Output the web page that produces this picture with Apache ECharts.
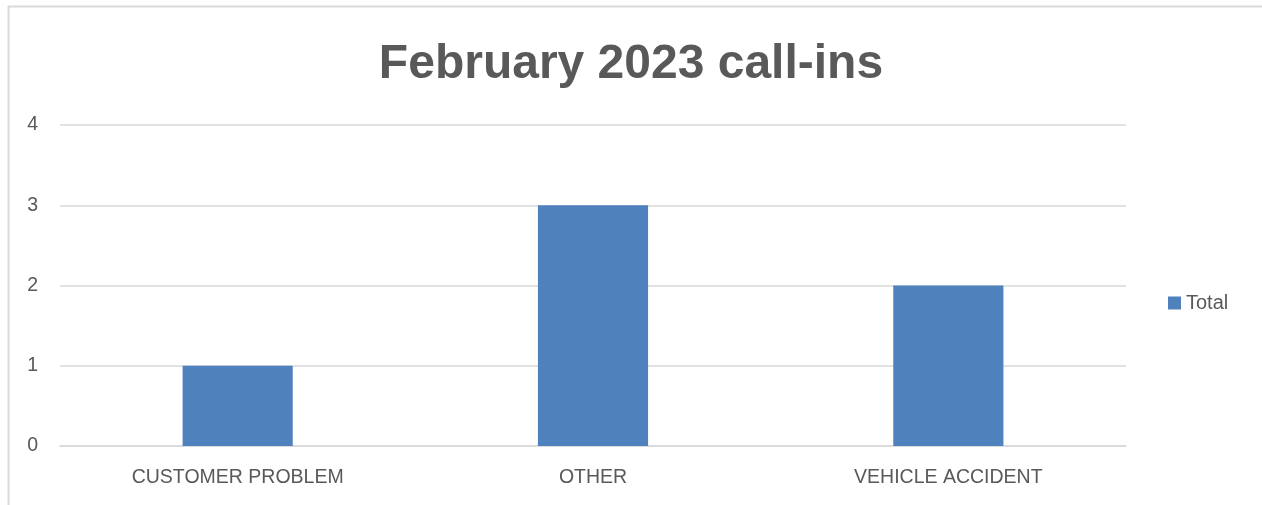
<!DOCTYPE html>
<html>
<head>
<meta charset="utf-8">
<script src="https://cdn.jsdelivr.net/npm/echarts@6/dist/echarts.min.js"></script>
<style>
  html, body { margin: 0; padding: 0; background: #fff; }
  #chart { width: 1262px; height: 505px; }
</style>
</head>
<body>
<div id="chart"></div>
<script>
// chart data
const categories = ['CUSTOMER PROBLEM', 'OTHER', 'VEHICLE ACCIDENT'];
const totals = [1, 3, 2];
const yTicks = [0, 1, 2, 3, 4];

const textGray = '#595959';
const gridGray = '#d9d9d9';

let chart = echarts.init(document.getElementById('chart'));
chart.setOption({
  animation: false,
  textStyle: { fontFamily: 'Liberation Sans, Arial, sans-serif' },
  graphic: [{
    type: 'rect',
    shape: { x: 8.5, y: 6.5, width: 1400, height: 700 },
    style: { fill: 'none', stroke: gridGray, lineWidth: 2 },
    silent: true
  }],
  title: {
    text: 'February 2023 call-ins',
    left: 'center',
    top: 36,
    textStyle: { color: textGray, fontSize: 48, fontWeight: 'bold' }
  },
  legend: {
    data: ['Total'],
    orient: 'vertical',
    left: 1163,
    top: 288,
    itemWidth: 13,
    itemHeight: 13,
    itemGap: 6,
    icon: 'rect',
    textStyle: { color: textGray, fontSize: 20 }
  },
  grid: { left: 60, right: 136, top: 125, bottom: 59 },
  xAxis: {
    type: 'category',
    data: categories,
    axisLine: { lineStyle: { color: gridGray, width: 1.5 } },
    axisTick: { show: false },
    axisLabel: { color: textGray, fontSize: 19.5, margin: 22 }
  },
  yAxis: {
    type: 'value',
    min: yTicks[0],
    max: yTicks[yTicks.length - 1],
    interval: 1,
    axisLine: { show: false },
    axisTick: { show: false },
    axisLabel: { color: textGray, fontSize: 19.5, margin: 22 },
    splitLine: { lineStyle: { color: gridGray, width: 1.5 } }
  },
  series: [{
    name: 'Total',
    type: 'bar',
    data: totals,
    barWidth: '31%',
    itemStyle: { color: '#4f81bd' }
  }]
});
</script>
</body>
</html>
